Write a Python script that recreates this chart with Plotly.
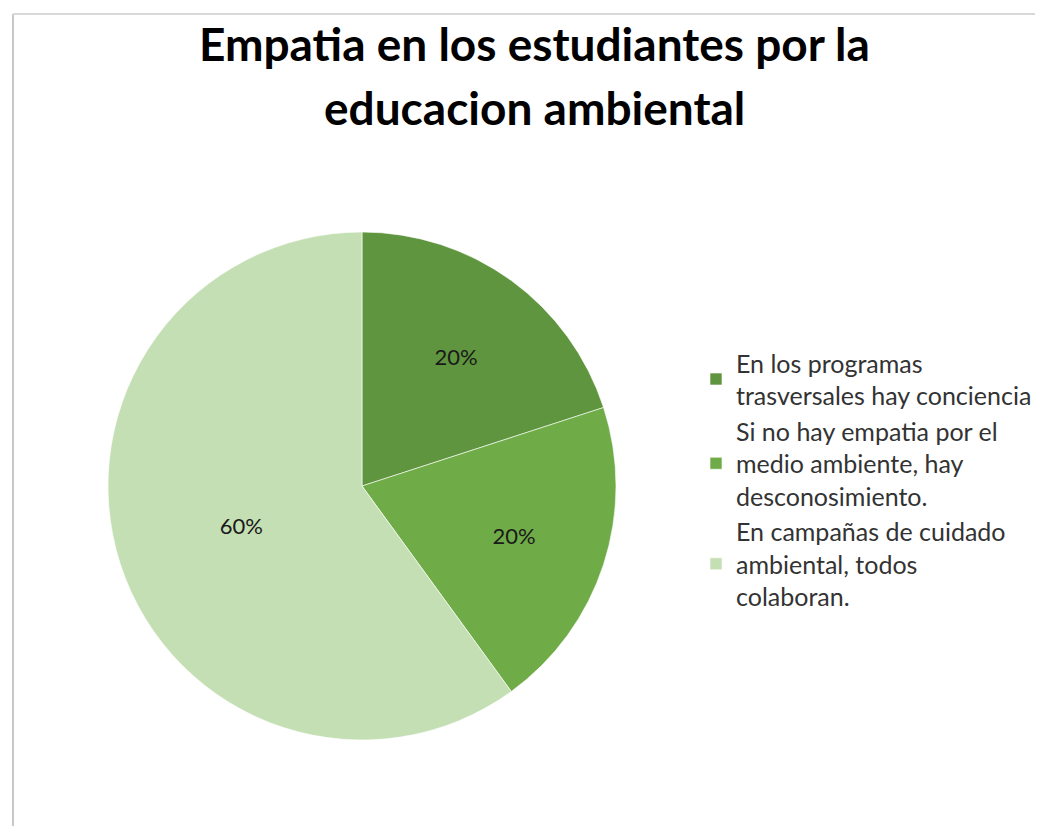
import plotly.graph_objects as go

title_lines = ["Empatia en los estudiantes por la", "educacion ambiental"]
categories = [
    "En los programas<br>trasversales hay conciencia",
    "Si no hay empatia por el<br>medio ambiente, hay<br>desconosimiento.",
    "En campañas de cuidado<br>ambiental, todos<br>colaboran.",
]
values = [20, 20, 60]
colors = ["#5f953e", "#6fac47", "#c4dfb3"]

W, H = 1043, 826
cx, cy, r = 354, 478, 254

fig = go.Figure()
fig.add_trace(go.Pie(
    labels=categories,
    values=values,
    sort=False,
    direction="clockwise",
    rotation=0,
    marker=dict(colors=colors, line=dict(color="rgba(255,255,255,0.6)", width=1)),
    texttemplate="%{percent:.0%}",
    textposition="inside",
    insidetextorientation="horizontal",
    textfont=dict(family="Lato", size=22, color="#1a1a1a"),
    domain=dict(x=[(cx - r) / W, (cx + r) / W], y=[(H - cy - r) / H, (H - cy + r) / H]),
    hoverinfo="label+percent",
    showlegend=True,
))

title_y = [35, 99]
annotations = [
    dict(text=t, xref="paper", yref="paper", x=526 / W, xanchor="center",
         y=1 - yy / H, yanchor="middle", showarrow=False,
         font=dict(family="Lato", size=46, color="black", weight="bold"))
    for t, yy in zip(title_lines, title_y)
]

fig.update_layout(
    width=W, height=H,
    margin=dict(l=0, r=0, t=0, b=0),
    paper_bgcolor="white",
    plot_bgcolor="white",
    annotations=annotations,
    legend=dict(
        x=688 / W, xanchor="left",
        y=1 - 332 / H, yanchor="top",
        font=dict(family="Lato", size=25, color="#333333"),
        valign="middle",
        tracegroupgap=0,
        itemwidth=30,
    ),
    shapes=[
        dict(type="line", xref="paper", yref="paper", x0=5 / W, x1=5 / W, y0=-0.02, y1=1 - 6 / H,
             line=dict(color="#c8c8c8", width=2)),
        dict(type="line", xref="paper", yref="paper", x0=5 / W, x1=1.02, y0=1 - 6 / H, y1=1 - 6 / H,
             line=dict(color="#d8d8d8", width=2)),
    ],
)

fig.write_html("out.html")
